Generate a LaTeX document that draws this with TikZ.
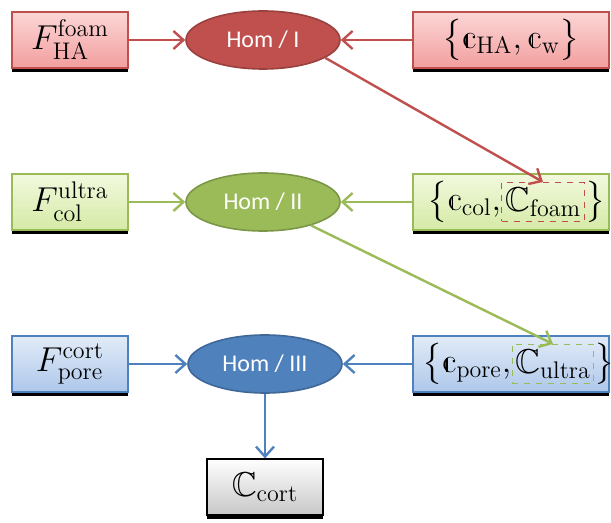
\documentclass[tikz,border=0pt]{standalone}
\usepackage{amsmath,amssymb}
\usepackage{fontspec}
\newfontfamily\homfont{Carlito}
\usetikzlibrary{shapes.geometric,shadows,arrows.meta}
\definecolor{homred}{HTML}{C0504D}
\definecolor{homgreen}{HTML}{9BBB59}
\definecolor{homblue}{HTML}{4F81BD}
\definecolor{redtop}{HTML}{FCD6D6}
\definecolor{redbot}{HTML}{F29E9E}
\definecolor{greentop}{HTML}{F2F9DE}
\definecolor{greenbot}{HTML}{D5EAA6}
\definecolor{bluetop}{HTML}{E2ECF8}
\definecolor{bluebot}{HTML}{AEC7EA}
% double struck small c
\newcommand{\dsc}{\mathrm{c}\mkern-5.2mu\rule[0.03em]{0.04em}{0.38em}\mkern4.5mu}

\begin{document}
\begin{tikzpicture}[x=0.5pt,y=-0.5pt,every node/.style={font=\LARGE},
    inbox/.style={rectangle, draw=#1, line width=1pt, minimum width=58pt, minimum height=28pt,
        drop shadow={shadow xshift=0pt, shadow yshift=-2pt, fill=black, opacity=1}},
    outbox/.style={inbox=#1, minimum width=98pt},
    hom/.style={ellipse, fill=#1, draw=#1!80!black, line width=0.8pt, minimum width=77pt,
        minimum height=29pt, inner sep=0pt, text=white, font=\homfont\large},
    part/.style={rectangle, draw=#1, dashed, line width=0.5pt, inner sep=1.5pt, minimum height=19.5pt},
    conn/.style={draw=#1, line width=1.2pt, -{Straight Barb[length=5pt,width=9pt]}}]
    \useasboundingbox (0,0) rectangle (611,523);
    % level I
    \node[inbox=homred, top color=redtop, bottom color=redbot] (fha) at (70,40) {$F_{\mathrm{HA}}^{\mathrm{foam}}$};
    \node[hom=homred] (hom1) at (263,40) {Hom / I};
    \node[outbox=homred, top color=redtop, bottom color=redbot] (in1) at (511,40) {$\big\{\dsc_{\mathrm{HA}},\dsc_{\mathrm{w}}\big\}$};
    % level II
    \node[inbox=homgreen, top color=greentop, bottom color=greenbot] (fcol) at (70,202) {$F_{\mathrm{col}}^{\mathrm{ultra}}$};
    \node[hom=homgreen] (hom2) at (263,202) {Hom / II};
    \node[outbox=homgreen, top color=greentop, bottom color=greenbot] (in2) at (511,202) {};
    \node[part=homred] (foam) at (543,202) {$\mathbb{C}_{\mathrm{foam}}$};
    \node[anchor=east, inner sep=0pt] (in2l) at (foam.west) {$\big\{\dsc_{\mathrm{col}},$};
    \node[anchor=west, inner sep=0pt] (in2r) at (foam.east) {$\big\}$};
    % level III
    \node[inbox=homblue, top color=bluetop, bottom color=bluebot] (fpore) at (70,364) {$F_{\mathrm{pore}}^{\mathrm{cort}}$};
    \node[hom=homblue] (hom3) at (265,364) {Hom / III};
    \node[outbox=homblue, top color=bluetop, bottom color=bluebot] (in3) at (511,364) {};
    \node[part=homgreen] (ultra) at (553,364) {$\mathbb{C}_{\mathrm{ultra}}$};
    \node[anchor=east, inner sep=0pt] (in3l) at (ultra.west) {$\big\{\dsc_{\mathrm{pore}},$};
    \node[anchor=west, inner sep=0pt] (in3r) at (ultra.east) {$\big\}$};
    % result
    \node[inbox=black, line width=0.6pt, top color=white, bottom color=black!22] (cort) at (265,487) {$\mathbb{C}_{\mathrm{cort}}$};
    % connectors
    \draw[conn=homred] (fha) -- (hom1);
    \draw[conn=homred] (in1) -- (hom1);
    \draw[conn=homred] (hom1.-16) -- (foam.north);
    \draw[conn=homgreen] (fcol) -- (hom2);
    \draw[conn=homgreen] (in2) -- (hom2);
    \draw[conn=homgreen] (hom2.-26) -- (ultra.north);
    \draw[conn=homblue] (fpore) -- (hom3);
    \draw[conn=homblue] (in3) -- (hom3);
    \draw[conn=homblue] (hom3) -- (cort);
\end{tikzpicture}
\end{document}
